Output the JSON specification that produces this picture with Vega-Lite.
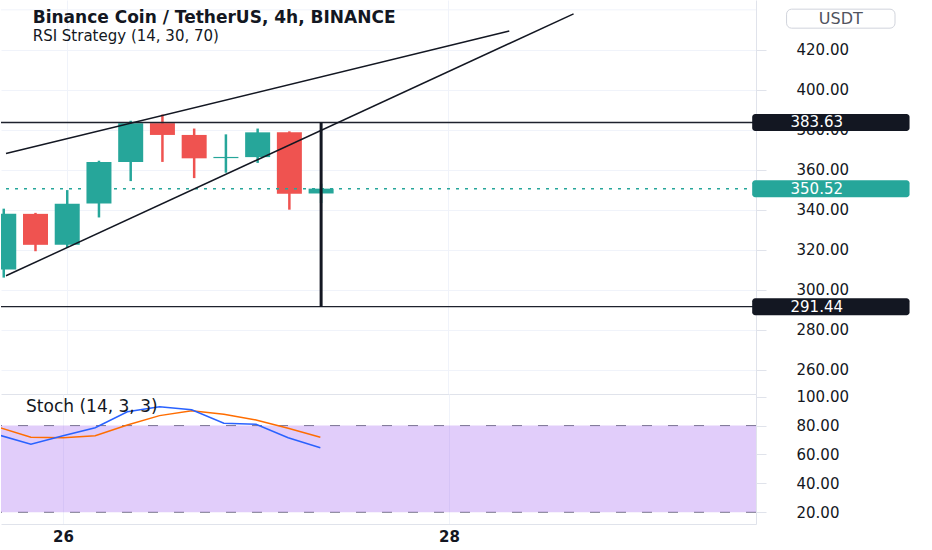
{
  "$schema": "https://vega.github.io/schema/vega-lite/v6.json",
  "padding": 0,
  "background": "white",
  "spacing": 0,
  "bounds": "flush",
  "config": {
    "view": {"stroke": null},
    "font": "DejaVu Sans",
    "axis": {"labelFont": "DejaVu Sans", "labelColor": "#131722", "labelOverlap": false},
    "text": {"font": "DejaVu Sans"}
  },
  "datasets": {
    "candles": [
      {"t": "2022-01-25T16:00", "open": 310.0, "high": 340.5, "low": 306.0, "close": 337.9},
      {"t": "2022-01-25T20:00", "open": 337.9, "high": 338.4, "low": 319.2, "close": 322.4},
      {"t": "2022-01-26T00:00", "open": 322.4, "high": 349.8, "low": 321.1, "close": 342.9},
      {"t": "2022-01-26T04:00", "open": 343.1, "high": 364.5, "low": 336.1, "close": 363.9},
      {"t": "2022-01-26T08:00", "open": 363.9, "high": 384.5, "low": 354.3, "close": 383.3},
      {"t": "2022-01-26T12:00", "open": 383.3, "high": 387.6, "low": 363.9, "close": 377.4},
      {"t": "2022-01-26T16:00", "open": 377.4, "high": 380.6, "low": 355.8, "close": 365.7},
      {"t": "2022-01-26T20:00", "open": 365.8, "high": 377.7, "low": 358.5, "close": 366.4},
      {"t": "2022-01-27T00:00", "open": 366.3, "high": 380.6, "low": 363.4, "close": 378.7},
      {"t": "2022-01-27T04:00", "open": 378.7, "high": 379.2, "low": 340.0, "close": 348.0},
      {"t": "2022-01-27T08:00", "open": 348.1, "high": 353.0, "low": 343.3, "close": 350.52}
    ],
    "stoch": [
      {"t": "2022-01-25T16:00", "k": 73.5, "d": 78.8},
      {"t": "2022-01-25T20:00", "k": 67.1, "d": 71.9},
      {"t": "2022-01-26T00:00", "k": 73.0, "d": 71.6},
      {"t": "2022-01-26T04:00", "k": 78.5, "d": 73.0},
      {"t": "2022-01-26T08:00", "k": 89.6, "d": 80.4},
      {"t": "2022-01-26T12:00", "k": 93.1, "d": 86.9},
      {"t": "2022-01-26T16:00", "k": 91.0, "d": 90.3},
      {"t": "2022-01-26T20:00", "k": 81.6, "d": 87.8},
      {"t": "2022-01-27T00:00", "k": 80.9, "d": 83.9},
      {"t": "2022-01-27T04:00", "k": 71.6, "d": 78.1},
      {"t": "2022-01-27T08:00", "k": 64.7, "d": 71.9}
    ],
    "trend": [
      {"line": "upper", "t": "2022-01-25T16:17", "p": 368.1},
      {"line": "upper", "t": "2022-01-28T07:43", "p": 429.4},
      {"line": "lower", "t": "2022-01-25T16:17", "p": 306.9},
      {"line": "lower", "t": "2022-01-28T15:49", "p": 438.0}
    ],
    "marker": [
      {"t": "2022-01-27T08:00", "top": 383.63, "bottom": 291.44}
    ],
    "levels": [
      {"label": "high", "price": 383.63},
      {"label": "low", "price": 291.44},
      {"label": "last", "price": 350.52}
    ],
    "bands": [
      {"lvl": 80},
      {"lvl": 20}
    ]
  },
  "vconcat": [
    {
      "width": 755,
      "height": 394,
      "layer": [
        {
          "data": {"name": "candles"},
          "mark": {"type": "rule", "strokeWidth": 2.5, "clip": true},
          "encoding": {
            "x": {
              "field": "t", "type": "temporal", "title": null,
              "scale": {"domain": [{"year": 2022, "month": 1, "date": 25, "hours": 16, "minutes": 17}, {"year": 2022, "month": 1, "date": 29, "hours": 14, "minutes": 11}]},
              "axis": {"values": [{"year": 2022, "month": 1, "date": 26}, {"year": 2022, "month": 1, "date": 28}], "tickCount": 10, "labels": false, "ticks": false, "domain": true, "domainColor": "#e0e3eb", "grid": true, "gridColor": "#f0f3fa", "title": null}
            },
            "y": {
              "field": "low", "type": "quantitative", "title": null,
              "scale": {"domain": [250.24, 442.44], "nice": false, "zero": false},
              "axis": {"orient": "right", "values": [260, 280, 300, 320, 340, 360, 380, 400, 420], "tickCount": 20, "format": ".2f", "title": null, "grid": true, "gridColor": "#f0f3fa", "domain": true, "domainColor": "#e0e3eb", "ticks": true, "tickColor": "#e0e3eb", "tickSize": 10, "labelAlign": "left", "labelBaseline": "middle", "labelPadding": 30, "labelFontSize": 15, "labelOverlap": false}
            },
            "y2": {"field": "high"},
            "color": {"condition": {"test": "datum.close >= datum.open", "value": "#26a69a"}, "value": "#ef5350"}
          }
        },
        {
          "data": {"name": "candles"},
          "mark": {"type": "bar", "size": 25, "clip": true},
          "encoding": {
            "x": {"field": "t", "type": "temporal", "title": null},
            "y": {"field": "open", "type": "quantitative", "title": null},
            "y2": {"field": "close"},
            "color": {"condition": {"test": "datum.close >= datum.open", "value": "#26a69a"}, "value": "#ef5350"}
          }
        },
        {
          "data": {"values": [{}]},
          "mark": {"type": "rule", "color": "#f0f3fa", "strokeWidth": 1},
          "encoding": {"y": {"datum": 440, "type": "quantitative"}}
        },
        {
          "data": {"name": "levels"},
          "transform": [{"filter": "datum.label != 'last'"}],
          "mark": {"type": "rule", "color": "#1e222d", "strokeWidth": 1.3},
          "encoding": {"y": {"field": "price", "type": "quantitative", "title": null}}
        },
        {
          "data": {"name": "levels"},
          "transform": [{"filter": "datum.label == 'last'"}],
          "mark": {"type": "rule", "color": "#26a69a", "strokeWidth": 1.5, "strokeDash": [3, 6]},
          "encoding": {"y": {"field": "price", "type": "quantitative", "title": null}}
        },
        {
          "data": {"name": "trend"},
          "mark": {"type": "line", "color": "#131722", "strokeWidth": 1.5, "clip": true},
          "encoding": {
            "x": {"field": "t", "type": "temporal", "title": null},
            "y": {"field": "p", "type": "quantitative", "title": null},
            "detail": {"field": "line"}
          }
        },
        {
          "data": {"name": "marker"},
          "mark": {"type": "rule", "color": "#131722", "strokeWidth": 3},
          "encoding": {
            "x": {"field": "t", "type": "temporal", "title": null},
            "y": {"field": "top", "type": "quantitative", "title": null},
            "y2": {"field": "bottom"}
          }
        },
        {
          "data": {"name": "levels"},
          "mark": {"type": "bar", "orient": "horizontal", "size": 17, "cornerRadius": 3},
          "encoding": {
            "y": {"field": "price", "type": "quantitative", "title": null},
            "x": {"datum": {"year": 2022, "month": 1, "date": 29, "hours": 14, "minutes": 20}, "type": "temporal"},
            "x2": {"datum": {"year": 2022, "month": 1, "date": 30, "hours": 10, "minutes": 10}},
            "color": {"condition": {"test": "datum.label == 'last'", "value": "#26a69a"}, "value": "#131722"}
          }
        },
        {
          "data": {"name": "levels"},
          "mark": {"type": "text", "align": "left", "baseline": "middle", "fontSize": 15, "color": "white"},
          "encoding": {
            "y": {"field": "price", "type": "quantitative", "title": null},
            "x": {"datum": {"year": 2022, "month": 1, "date": 29, "hours": 19, "minutes": 10}, "type": "temporal"},
            "text": {"field": "price", "format": ".2f"}
          }
        },
        {
          "data": {"values": [{}]},
          "mark": {"type": "bar", "orient": "horizontal", "size": 19, "cornerRadius": 5, "fill": "white", "stroke": "#d1d4dc", "strokeWidth": 1},
          "encoding": {
            "y": {"datum": 435.6, "type": "quantitative"},
            "x": {"datum": {"year": 2022, "month": 1, "date": 29, "hours": 18, "minutes": 40}, "type": "temporal"},
            "x2": {"datum": {"year": 2022, "month": 1, "date": 30, "hours": 8, "minutes": 20}}
          }
        },
        {
          "data": {"values": [{}]},
          "mark": {"type": "text", "align": "center", "baseline": "middle", "fontSize": 16, "color": "#50535e"},
          "encoding": {
            "y": {"datum": 435.6, "type": "quantitative"},
            "x": {"datum": {"year": 2022, "month": 1, "date": 30, "hours": 1, "minutes": 30}, "type": "temporal"},
            "text": {"value": "USDT"}
          }
        },
        {
          "data": {"values": [{}]},
          "mark": {"type": "text", "align": "left", "baseline": "alphabetic", "fontSize": 17, "fontWeight": "bold", "color": "#131722"},
          "encoding": {
            "y": {"datum": 433.4, "type": "quantitative"},
            "x": {"datum": {"year": 2022, "month": 1, "date": 25, "hours": 19, "minutes": 39}, "type": "temporal"},
            "text": {"value": "Binance Coin / TetherUS, 4h, BINANCE"}
          }
        },
        {
          "data": {"values": [{}]},
          "mark": {"type": "text", "align": "left", "baseline": "alphabetic", "fontSize": 15, "color": "#131722"},
          "encoding": {
            "y": {"datum": 424.4, "type": "quantitative"},
            "x": {"datum": {"year": 2022, "month": 1, "date": 25, "hours": 19, "minutes": 39}, "type": "temporal"},
            "text": {"value": "RSI Strategy (14, 30, 70)"}
          }
        }
      ]
    },
    {
      "width": 755,
      "height": 130,
      "layer": [
        {
          "data": {"name": "bands"},
          "mark": {"type": "rule", "color": "#787b86", "strokeWidth": 1, "strokeDash": [10, 16]},
          "encoding": {
            "y": {
              "field": "lvl", "type": "quantitative", "title": null,
              "scale": {"domain": [11.9, 101.87], "nice": false, "zero": false},
              "axis": {"orient": "right", "values": [20, 40, 60, 80, 100], "tickCount": 20, "format": ".2f", "title": null, "grid": false, "domain": true, "domainColor": "#e0e3eb", "ticks": true, "tickColor": "#e0e3eb", "tickSize": 10, "labelAlign": "left", "labelBaseline": "middle", "labelPadding": 30, "labelFontSize": 15, "labelOverlap": false}
            }
          }
        },
        {
          "data": {"name": "bands"},
          "transform": [{"filter": "datum.lvl == 80"}],
          "mark": {"type": "rect", "color": "#8737eb", "opacity": 0.25},
          "encoding": {
            "x": {"datum": {"year": 2022, "month": 1, "date": 25, "hours": 16, "minutes": 17}, "type": "temporal"},
            "x2": {"datum": {"year": 2022, "month": 1, "date": 29, "hours": 14, "minutes": 11}},
            "y": {"field": "lvl", "type": "quantitative", "title": null},
            "y2": {"datum": 20}
          }
        },
        {
          "data": {"name": "stoch"},
          "mark": {"type": "line", "color": "#ff6d00", "strokeWidth": 1.5, "clip": true},
          "encoding": {
            "x": {
              "field": "t", "type": "temporal", "title": null,
              "scale": {"domain": [{"year": 2022, "month": 1, "date": 25, "hours": 16, "minutes": 17}, {"year": 2022, "month": 1, "date": 29, "hours": 14, "minutes": 11}]},
              "axis": {"values": [{"year": 2022, "month": 1, "date": 26}, {"year": 2022, "month": 1, "date": 28}], "tickCount": 10, "format": "%d", "labelFontWeight": "bold", "labelFontSize": 15, "ticks": false, "domain": true, "domainColor": "#e0e3eb", "grid": true, "gridColor": "#f0f3fa", "labelPadding": 5, "title": null}
            },
            "y": {"field": "d", "type": "quantitative", "title": null}
          }
        },
        {
          "data": {"name": "stoch"},
          "mark": {"type": "line", "color": "#2962ff", "strokeWidth": 1.5, "clip": true},
          "encoding": {
            "x": {"field": "t", "type": "temporal", "title": null},
            "y": {"field": "k", "type": "quantitative", "title": null}
          }
        },
        {
          "data": {"values": [{}]},
          "mark": {"type": "text", "align": "left", "baseline": "alphabetic", "fontSize": 17, "color": "#131722"},
          "encoding": {
            "y": {"datum": 89.6, "type": "quantitative"},
            "x": {"datum": {"year": 2022, "month": 1, "date": 25, "hours": 19, "minutes": 24}, "type": "temporal"},
            "text": {"value": "Stoch (14, 3, 3)"}
          }
        }
      ]
    }
  ]
}
